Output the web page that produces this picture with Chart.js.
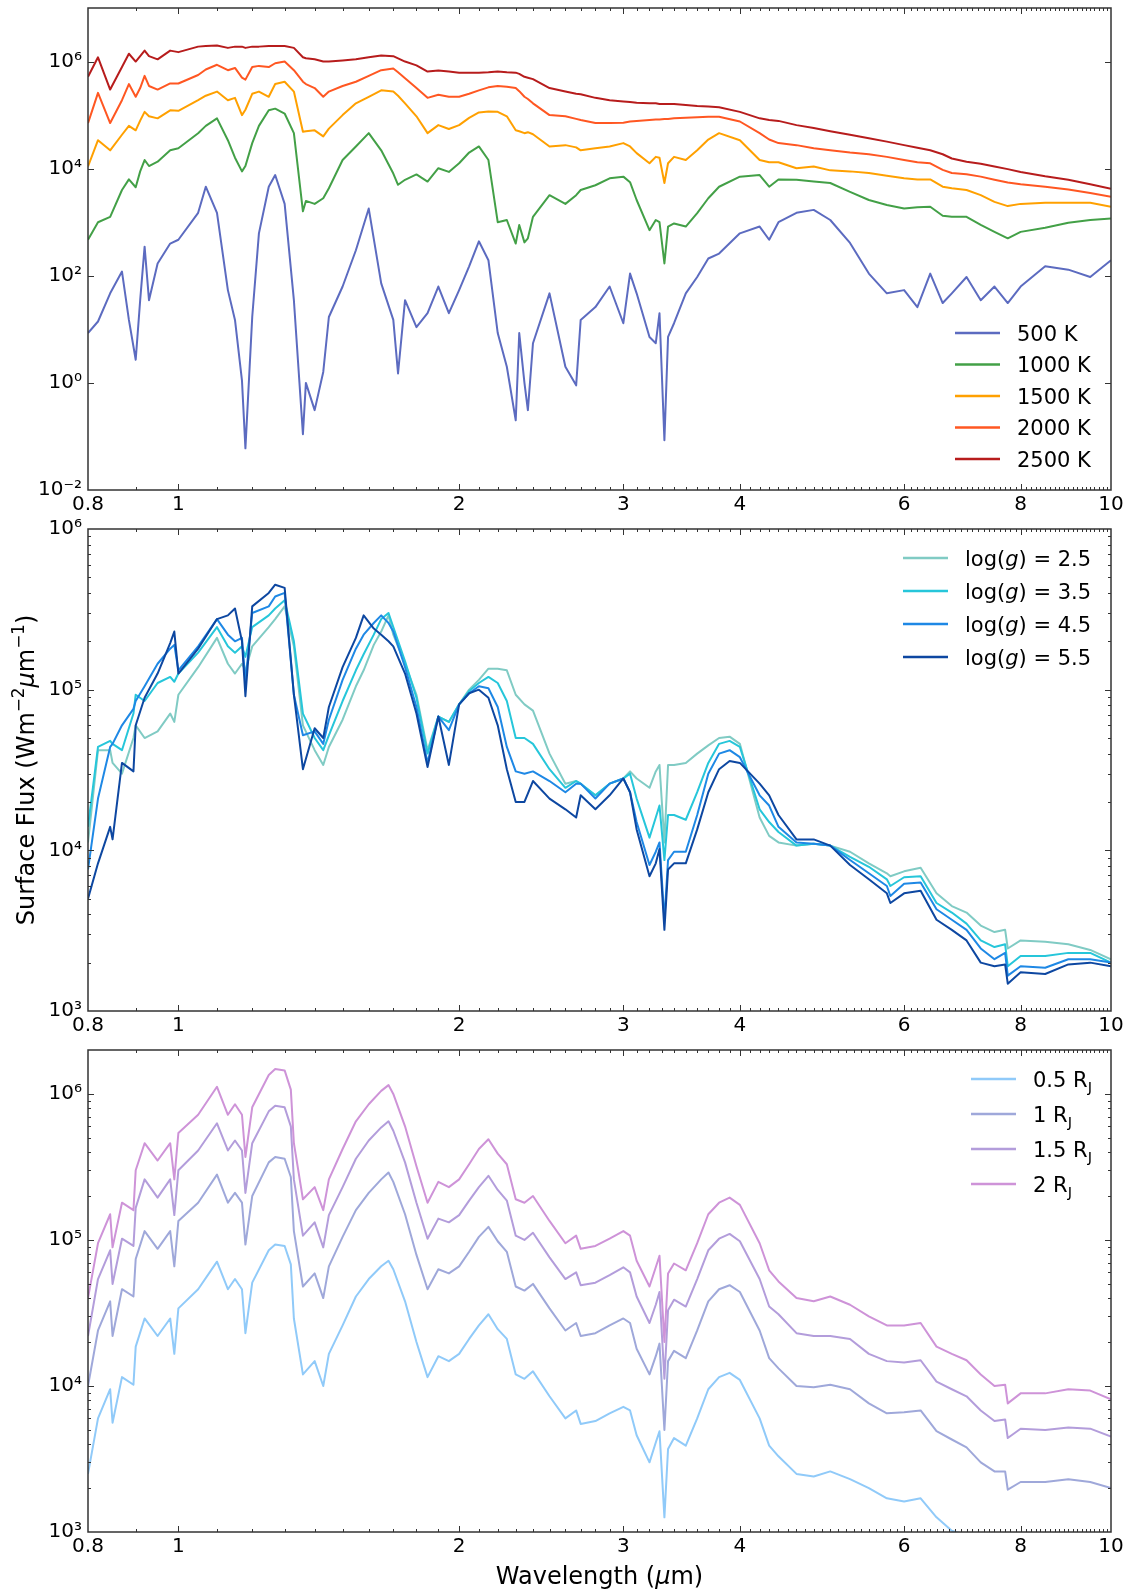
<!DOCTYPE html>
<html>
<head>
<meta charset="utf-8">
<script src="https://cdn.jsdelivr.net/npm/chart.js@4.4.1/dist/chart.umd.min.js"></script>
<style>
  html, body { margin: 0; padding: 0; background: #fff; }
  #fig { position: relative; width: 1128px; height: 1591px; }
  canvas { position: absolute; left: 0; }
</style>
</head>
<body>
<div id="fig">
  <canvas id="c1" width="1128" height="521" style="top:0px"></canvas>
  <canvas id="c2" width="1128" height="541" style="top:501px"></canvas>
  <canvas id="c3" width="1128" height="569" style="top:1022px"></canvas>
</div>
<script>
// ---- shared axis ticks ----
const xTicks = [0.8, 1, 2, 3, 4, 6, 8, 10];
const yTicksTemp = [1e-2, 1, 1e2, 1e4, 1e6];
const yTicksGrav = [1e3, 1e4, 1e5, 1e6];
const yTicksRad = [1e3, 1e4, 1e5, 1e6];

// ---- panel 1: temperature ----
const wlTemp = [0.8, 0.82, 0.845, 0.87, 0.885, 0.9, 0.91, 0.92, 0.93, 0.95,
  0.98, 1.0, 1.05, 1.07, 1.1, 1.13, 1.15, 1.17, 1.18, 1.2,
  1.22, 1.25, 1.27, 1.3, 1.33, 1.36, 1.37, 1.4, 1.43, 1.45,
  1.5, 1.55, 1.6, 1.65, 1.7, 1.72, 1.75, 1.8, 1.85, 1.9,
  1.95, 2.0, 2.05, 2.1, 2.15, 2.2, 2.25, 2.3, 2.32, 2.35,
  2.37, 2.4, 2.5, 2.6, 2.67, 2.7, 2.8, 2.9, 3.0, 3.05,
  3.1, 3.2, 3.25, 3.28, 3.32, 3.35, 3.4, 3.5, 3.6, 3.7,
  3.8, 4.0, 4.2, 4.3, 4.4, 4.6, 4.8, 5.0, 5.25, 5.5,
  5.75, 6.0, 6.2, 6.4, 6.6, 6.75, 7.0, 7.25, 7.5, 7.75,
  8.0, 8.5, 9.0, 9.5, 10];
const tempLabels = ['500 K', '1000 K', '1500 K', '2000 K', '2500 K'];
const tempColors = ['#5c6bc0', '#43a047', '#ffa000', '#ff5722', '#b71c1c'];
const flux500 = [8.5, 14, 47, 120, 15, 2.7, 35, 350, 35, 170,
  400, 470, 1.5e3, 4.6e3, 1.5e3, 54, 15, 1.1, 0.06, 17,
  620, 4.6e3, 7.6e3, 2.2e3, 35, 0.11, 1.0, 0.31, 1.6, 17,
  63, 300, 1.8e3, 72, 15, 1.5, 35, 11, 20, 63,
  20, 54, 150, 440, 195, 8.5, 2.0, 0.2, 8.5, 1.0,
  0.31, 5.5, 47, 2.0, 0.9, 15, 26, 63, 13, 110,
  47, 7.2, 5.5, 20, 0.085, 7.2, 13, 47, 95, 210,
  260, 620, 830, 470, 1.0e3, 1.5e3, 1.7e3, 1.1e3, 410, 110,
  47, 54, 26, 110, 31, 47, 95, 35, 63, 31,
  63, 150, 130, 95, 195];
const flux1000 = [470, 1.0e3, 1.26e3, 4.0e3, 6.3e3, 4.5e3, 8.9e3, 1.45e4, 1.12e4, 1.35e4,
  2.2e4, 2.4e4, 4.6e4, 6.3e4, 8.7e4, 3.4e4, 1.6e4, 8.9e3, 1.12e4, 3.0e4,
  6.3e4, 1.23e5, 1.32e5, 1.07e5, 4.6e4, 1.6e3, 2.5e3, 2.2e3, 2.8e3, 4.3e3,
  1.45e4, 2.6e4, 4.6e4, 2.2e4, 8.1e3, 5.0e3, 6.2e3, 7.8e3, 5.75e3, 1.02e4,
  8.7e3, 1.26e4, 2.0e4, 2.6e4, 1.45e4, 1.0e3, 1.1e3, 400, 890, 420,
  500, 1.26e3, 3.2e3, 2.2e3, 3.2e3, 4.0e3, 4.9e3, 6.6e3, 7.1e3, 5.6e3,
  2.6e3, 710, 1.1e3, 1.0e3, 170, 830, 950, 830, 1.48e3, 2.8e3,
  4.6e3, 7.1e3, 7.6e3, 4.6e3, 6.3e3, 6.2e3, 5.75e3, 5.4e3, 3.7e3, 2.6e3,
  2.1e3, 1.8e3, 1.9e3, 1.95e3, 1.32e3, 1.26e3, 1.26e3, 890, 660, 500,
  660, 790, 980, 1.1e3, 1.17e3];
const flux1500 = [1.1e4, 3.4e4, 2.2e4, 4.3e4, 6.3e4, 5.2e4, 7.9e4, 1.15e5, 9.5e4, 8.7e4,
  1.23e5, 1.2e5, 1.9e5, 2.3e5, 2.75e5, 1.9e5, 2.1e5, 1.0e5, 1.26e5, 2.5e5,
  2.75e5, 2.2e5, 3.8e5, 4.2e5, 2.75e5, 4.9e4, 5.0e4, 5.2e4, 4.0e4, 5.6e4,
  1.0e5, 1.66e5, 2.2e5, 2.9e5, 2.75e5, 2.3e5, 1.66e5, 9.5e4, 4.6e4, 6.5e4,
  5.5e4, 6.5e4, 8.9e4, 1.12e5, 1.17e5, 1.15e5, 9.5e4, 5.2e4, 5.0e4, 4.6e4,
  4.8e4, 4.4e4, 2.6e4, 2.75e4, 2.5e4, 2.2e4, 2.4e4, 2.6e4, 3.0e4, 2.6e4,
  1.95e4, 1.26e4, 1.66e4, 1.6e4, 5.4e3, 1.26e4, 1.66e4, 1.45e4, 2.2e4, 3.5e4,
  4.6e4, 3.4e4, 1.45e4, 1.32e4, 1.32e4, 1.02e4, 1.1e4, 9.3e3, 8.9e3, 8.3e3,
  7.4e3, 6.6e3, 6.3e3, 6.3e3, 4.6e3, 4.3e3, 4.0e3, 3.2e3, 2.4e3, 2.0e3,
  2.2e3, 2.3e3, 2.3e3, 2.3e3, 1.95e3];
const flux2000 = [7.1e4, 2.6e5, 7.1e4, 1.9e5, 3.8e5, 2.2e5, 3.2e5, 5.4e5, 3.5e5, 3.0e5,
  3.9e5, 3.9e5, 5.6e5, 7.1e5, 8.7e5, 6.9e5, 7.6e5, 5.0e5, 4.6e5, 7.9e5,
  8.3e5, 7.9e5, 9.3e5, 1.0e6, 6.9e5, 4.2e5, 3.8e5, 3.2e5, 2.2e5, 2.75e5,
  3.5e5, 4.2e5, 5.4e5, 6.9e5, 7.4e5, 6.3e5, 4.9e5, 3.2e5, 2.1e5, 2.4e5,
  2.2e5, 2.2e5, 2.5e5, 2.9e5, 3.3e5, 3.5e5, 3.4e5, 3.2e5, 2.8e5, 2.2e5,
  2.0e5, 1.66e5, 1.0e5, 9.5e4, 8.5e4, 8.1e4, 7.1e4, 7.1e4, 7.2e4, 7.6e4,
  7.8e4, 8.1e4, 8.3e4, 8.3e4, 8.5e4, 8.5e4, 8.7e4, 8.9e4, 9.1e4, 9.3e4,
  9.3e4, 7.6e4, 4.6e4, 3.5e4, 3.0e4, 2.75e4, 2.4e4, 2.2e4, 2.0e4, 1.86e4,
  1.66e4, 1.45e4, 1.32e4, 1.26e4, 9.5e3, 8.3e3, 7.9e3, 7.1e3, 6.2e3, 5.5e3,
  5.1e3, 4.6e3, 4.1e3, 3.5e3, 3.0e3];
const flux2500 = [5.2e5, 1.2e6, 3.0e5, 7.9e5, 1.4e6, 1.0e6, 1.26e6, 1.6e6, 1.26e6, 1.1e6,
  1.6e6, 1.5e6, 1.9e6, 1.95e6, 2.0e6, 1.8e6, 1.9e6, 1.9e6, 1.8e6, 1.9e6,
  1.9e6, 1.95e6, 1.95e6, 1.95e6, 1.8e6, 1.2e6, 1.15e6, 1.1e6, 1.0e6, 1.0e6,
  1.05e6, 1.1e6, 1.2e6, 1.3e6, 1.26e6, 1.15e6, 1.0e6, 8.5e5, 6.5e5, 6.8e5,
  6.5e5, 6.2e5, 6.2e5, 6.2e5, 6.3e5, 6.5e5, 6.3e5, 6.2e5, 5.9e5, 5.2e5,
  5.0e5, 4.7e5, 3.2e5, 2.75e5, 2.5e5, 2.45e5, 2.1e5, 1.9e5, 1.8e5, 1.75e5,
  1.7e5, 1.66e5, 1.66e5, 1.62e5, 1.62e5, 1.62e5, 1.62e5, 1.55e5, 1.48e5, 1.45e5,
  1.4e5, 1.15e5, 8.7e4, 8.1e4, 7.8e4, 6.5e4, 5.75e4, 5.0e4, 4.3e4, 3.7e4,
  3.2e4, 2.75e4, 2.45e4, 2.2e4, 1.86e4, 1.55e4, 1.35e4, 1.23e4, 1.1e4, 9.8e3,
  8.7e3, 7.2e3, 6.2e3, 5.1e3, 4.2e3];

// ---- panel 2: surface gravity ----
const wlGrav = [0.8, 0.82, 0.845, 0.85, 0.87, 0.895, 0.9, 0.92, 0.95, 0.98,
  0.99, 1.0, 1.05, 1.1, 1.13, 1.15, 1.17, 1.18, 1.2, 1.25,
  1.27, 1.3, 1.33, 1.36, 1.4, 1.43, 1.45, 1.5, 1.55, 1.58,
  1.62, 1.65, 1.68, 1.7, 1.75, 1.8, 1.85, 1.9, 1.95, 2.0,
  2.05, 2.1, 2.15, 2.2, 2.25, 2.3, 2.35, 2.4, 2.5, 2.6,
  2.67, 2.7, 2.8, 2.9, 3.0, 3.05, 3.1, 3.2, 3.25, 3.28,
  3.32, 3.35, 3.4, 3.5, 3.6, 3.7, 3.8, 3.9, 4.0, 4.2,
  4.3, 4.4, 4.6, 4.8, 5.0, 5.25, 5.5, 5.75, 5.8, 6.0,
  6.25, 6.5, 6.75, 7.0, 7.25, 7.5, 7.7, 7.75, 8.0, 8.5,
  9.0, 9.5, 10];
const gravLabels = ['log(*g*) = 2.5', 'log(*g*) = 3.5', 'log(*g*) = 4.5', 'log(*g*) = 5.5'];
const gravColors = ['#80cbc4', '#26c6da', '#1e88e5', '#0d47a1'];
const fluxLogg25 = [1.12e4, 4.2e4, 4.2e4, 3.5e4, 3.0e4, 5.0e4, 6.0e4, 5.0e4, 5.5e4, 7.1e4,
  6.3e4, 9.3e4, 1.38e5, 2.1e5, 1.45e5, 1.26e5, 1.45e5, 1.32e5, 1.86e5, 2.45e5,
  2.75e5, 3.3e5, 1.86e5, 6.0e4, 4.2e4, 3.4e4, 4.4e4, 6.5e4, 1.05e5, 1.32e5,
  1.9e5, 2.3e5, 2.9e5, 2.2e5, 1.45e5, 9.3e4, 4.2e4, 6.8e4, 6.3e4, 8.1e4,
  1.0e5, 1.15e5, 1.35e5, 1.35e5, 1.32e5, 9.3e4, 8.1e4, 7.4e4, 4.0e4, 2.6e4,
  2.7e4, 2.6e4, 2.2e4, 2.6e4, 2.8e4, 3.1e4, 2.8e4, 2.45e4, 3.1e4, 3.4e4,
  1.12e4, 3.4e4, 3.4e4, 3.5e4, 4.0e4, 4.5e4, 5.0e4, 5.1e4, 4.6e4, 1.6e4,
  1.23e4, 1.12e4, 1.07e4, 1.1e4, 1.07e4, 9.8e3, 8.3e3, 7.2e3, 6.9e3, 7.4e3,
  7.8e3, 5.4e3, 4.5e3, 4.1e3, 3.4e3, 3.1e3, 3.2e3, 2.45e3, 2.75e3, 2.7e3,
  2.6e3, 2.4e3, 2.1e3];
const fluxLogg35 = [1.4e4, 4.4e4, 4.8e4, 4.6e4, 4.2e4, 7.1e4, 9.3e4, 8.5e4, 1.1e5, 1.2e5,
  1.12e5, 1.26e5, 1.7e5, 2.45e5, 1.86e5, 1.7e5, 1.86e5, 1.6e5, 2.45e5, 2.9e5,
  3.2e5, 3.6e5, 2.0e5, 7.1e4, 5.0e4, 4.2e4, 5.2e4, 8.5e4, 1.32e5, 1.66e5,
  2.2e5, 2.75e5, 3.0e5, 2.45e5, 1.5e5, 8.9e4, 4.0e4, 6.8e4, 6.3e4, 8.1e4,
  9.8e4, 1.1e5, 1.2e5, 1.1e5, 8.5e4, 5.0e4, 5.0e4, 4.6e4, 3.2e4, 2.45e4,
  2.7e4, 2.6e4, 2.2e4, 2.6e4, 2.8e4, 3.0e4, 2.1e4, 1.2e4, 1.6e4, 1.9e4,
  8.7e3, 1.66e4, 1.66e4, 1.55e4, 2.3e4, 3.5e4, 4.6e4, 4.8e4, 4.4e4, 1.8e4,
  1.5e4, 1.3e4, 1.07e4, 1.1e4, 1.07e4, 9.1e3, 7.9e3, 6.6e3, 6.0e3, 6.8e3,
  6.9e3, 4.7e3, 4.1e3, 3.5e3, 2.75e3, 2.5e3, 2.6e3, 1.9e3, 2.2e3, 2.2e3,
  2.3e3, 2.3e3, 2.0e3];
const fluxLogg45 = [7.6e3, 2.1e4, 4.4e4, 4.6e4, 6.0e4, 7.6e4, 8.5e4, 1.05e5, 1.45e5, 1.8e5,
  1.9e5, 1.32e5, 1.86e5, 2.75e5, 2.2e5, 2.0e5, 2.1e5, 1.12e5, 3.0e5, 3.3e5,
  3.8e5, 4.0e5, 9.3e4, 5.2e4, 5.5e4, 4.6e4, 6.5e4, 1.15e5, 1.8e5, 2.2e5,
  2.6e5, 2.9e5, 2.6e5, 2.3e5, 1.38e5, 7.8e4, 3.5e4, 6.8e4, 5.6e4, 8.1e4,
  9.5e4, 1.05e5, 1.02e5, 7.8e4, 4.4e4, 3.1e4, 3.0e4, 3.1e4, 2.7e4, 2.3e4,
  2.6e4, 2.6e4, 2.1e4, 2.6e4, 2.8e4, 2.3e4, 1.5e4, 8.1e3, 9.8e3, 1.12e4,
  3.7e3, 8.7e3, 9.8e3, 9.8e3, 1.66e4, 3.0e4, 4.0e4, 4.2e4, 3.8e4, 2.2e4,
  1.9e4, 1.4e4, 1.12e4, 1.1e4, 1.07e4, 8.7e3, 7.2e3, 6.0e3, 5.2e3, 6.2e3,
  6.3e3, 4.3e3, 3.7e3, 3.2e3, 2.45e3, 2.1e3, 2.3e3, 1.66e3, 1.9e3, 1.86e3,
  2.1e3, 2.1e3, 2.0e3];
const fluxLogg55 = [5.0e3, 8.3e3, 1.4e4, 1.17e4, 3.5e4, 3.1e4, 6.0e4, 8.9e4, 1.26e5, 1.95e5,
  2.3e5, 1.26e5, 1.8e5, 2.75e5, 2.9e5, 3.2e5, 2.0e5, 9.1e4, 3.3e5, 4.0e5,
  4.5e5, 4.3e5, 9.3e4, 3.2e4, 5.75e4, 5.0e4, 7.8e4, 1.38e5, 2.1e5, 2.9e5,
  2.4e5, 2.2e5, 2.0e5, 1.86e5, 1.26e5, 7.1e4, 3.3e4, 6.8e4, 3.4e4, 8.1e4,
  9.5e4, 1.0e5, 8.9e4, 6.0e4, 3.2e4, 2.0e4, 2.0e4, 2.7e4, 2.1e4, 1.8e4,
  1.6e4, 2.2e4, 1.8e4, 2.2e4, 2.8e4, 2.3e4, 1.35e4, 6.9e3, 8.3e3, 1.02e4,
  3.2e3, 7.6e3, 8.3e3, 8.3e3, 1.35e4, 2.3e4, 3.2e4, 3.6e4, 3.5e4, 2.6e4,
  2.2e4, 1.66e4, 1.17e4, 1.17e4, 1.07e4, 8.1e3, 6.6e3, 5.4e3, 4.7e3, 5.4e3,
  5.6e3, 3.7e3, 3.2e3, 2.75e3, 2.0e3, 1.9e3, 1.95e3, 1.48e3, 1.74e3, 1.7e3,
  1.95e3, 2.0e3, 1.9e3];

// ---- panel 3: radius ----
const wlRad = [0.8, 0.82, 0.845, 0.85, 0.87, 0.895, 0.9, 0.92, 0.95, 0.98,
  0.99, 1.0, 1.05, 1.1, 1.13, 1.15, 1.17, 1.18, 1.2, 1.25,
  1.27, 1.3, 1.32, 1.33, 1.36, 1.4, 1.43, 1.45, 1.5, 1.55,
  1.6, 1.65, 1.68, 1.7, 1.75, 1.8, 1.85, 1.9, 1.95, 2.0,
  2.05, 2.1, 2.15, 2.2, 2.25, 2.3, 2.35, 2.4, 2.5, 2.6,
  2.67, 2.7, 2.8, 2.9, 3.0, 3.05, 3.1, 3.2, 3.25, 3.28,
  3.32, 3.35, 3.4, 3.5, 3.6, 3.7, 3.8, 3.9, 4.0, 4.2,
  4.3, 4.4, 4.6, 4.8, 5.0, 5.25, 5.5, 5.75, 6.0, 6.25,
  6.5, 6.75, 7.0, 7.25, 7.5, 7.7, 7.75, 8.0, 8.5, 9.0,
  9.5, 10];
const radLabels = ['0.5 R_J', '1 R_J', '1.5 R_J', '2 R_J'];
const radColors = ['#90caf9', '#9fa8da', '#b39ddb', '#ce93d8'];
const fluxR05 = [2.5e3, 6.0e3, 9.5e3, 5.6e3, 1.15e4, 1.02e4, 1.86e4, 2.9e4, 2.2e4, 2.9e4,
  1.66e4, 3.4e4, 4.6e4, 7.1e4, 4.6e4, 5.4e4, 4.6e4, 2.3e4, 5.1e4, 8.5e4,
  9.3e4, 9.1e4, 6.8e4, 2.9e4, 1.2e4, 1.48e4, 1.0e4, 1.66e4, 2.6e4, 4.1e4,
  5.4e4, 6.6e4, 7.2e4, 6.3e4, 3.8e4, 2.0e4, 1.15e4, 1.6e4, 1.48e4, 1.66e4,
  2.1e4, 2.6e4, 3.1e4, 2.45e4, 2.1e4, 1.2e4, 1.12e4, 1.26e4, 8.5e3, 6.0e3,
  6.8e3, 5.5e3, 5.75e3, 6.5e3, 7.2e3, 6.8e3, 4.6e3, 3.0e3, 4.1e3, 4.9e3,
  1.26e3, 3.7e3, 4.4e3, 3.9e3, 6.0e3, 9.5e3, 1.15e4, 1.23e4, 1.1e4, 6.0e3,
  3.9e3, 3.3e3, 2.5e3, 2.4e3, 2.6e3, 2.3e3, 2.0e3, 1.7e3, 1.62e3, 1.7e3,
  1.26e3, 1.02e3, 950, 740, 680, 690, 490, 560, 560, 590,
  560, 500];
const fluxR10 = [1.0e4, 2.4e4, 3.8e4, 2.2e4, 4.6e4, 4.1e4, 7.4e4, 1.15e5, 8.7e4, 1.15e5,
  6.6e4, 1.35e5, 1.8e5, 2.8e5, 1.8e5, 2.1e5, 1.8e5, 9.3e4, 2.0e5, 3.4e5,
  3.7e5, 3.6e5, 2.7e5, 1.15e5, 4.8e4, 5.9e4, 4.0e4, 6.6e4, 1.05e5, 1.6e5,
  2.1e5, 2.6e5, 2.9e5, 2.5e5, 1.5e5, 7.9e4, 4.6e4, 6.3e4, 5.9e4, 6.6e4,
  8.3e4, 1.05e5, 1.23e5, 9.8e4, 8.3e4, 4.8e4, 4.5e4, 5.0e4, 3.4e4, 2.4e4,
  2.7e4, 2.2e4, 2.3e4, 2.6e4, 2.9e4, 2.7e4, 1.8e4, 1.2e4, 1.6e4, 1.95e4,
  5.0e3, 1.48e4, 1.74e4, 1.55e4, 2.4e4, 3.8e4, 4.6e4, 4.9e4, 4.4e4, 2.4e4,
  1.55e4, 1.32e4, 1.0e4, 9.8e3, 1.02e4, 9.5e3, 7.6e3, 6.5e3, 6.6e3, 6.8e3,
  4.9e3, 4.3e3, 3.8e3, 3.0e3, 2.6e3, 2.6e3, 1.95e3, 2.2e3, 2.2e3, 2.3e3,
  2.2e3, 2.0e3];
const fluxR15 = [2.2e4, 5.4e4, 8.5e4, 5.0e4, 1.02e5, 9.1e4, 1.66e5, 2.6e5, 1.95e5, 2.6e5,
  1.48e5, 3.0e5, 4.1e5, 6.3e5, 4.1e5, 4.8e5, 4.1e5, 2.1e5, 4.6e5, 7.6e5,
  8.3e5, 8.1e5, 6.0e5, 2.6e5, 1.07e5, 1.32e5, 8.9e4, 1.48e5, 2.3e5, 3.6e5,
  4.8e5, 5.9e5, 6.5e5, 5.6e5, 3.4e5, 1.8e5, 1.02e5, 1.4e5, 1.32e5, 1.48e5,
  1.86e5, 2.3e5, 2.75e5, 2.2e5, 1.86e5, 1.07e5, 1.0e5, 1.12e5, 7.6e4, 5.4e4,
  6.0e4, 4.9e4, 5.1e4, 5.75e4, 6.5e4, 6.0e4, 4.1e4, 2.7e4, 3.6e4, 4.4e4,
  1.12e4, 3.3e4, 3.9e4, 3.5e4, 5.4e4, 8.5e4, 1.02e5, 1.1e5, 9.8e4, 5.4e4,
  3.5e4, 3.1e4, 2.3e4, 2.2e4, 2.2e4, 2.1e4, 1.66e4, 1.48e4, 1.45e4, 1.5e4,
  1.07e4, 9.5e3, 8.5e3, 6.8e3, 5.75e3, 5.9e3, 4.4e3, 5.1e3, 5.0e3, 5.2e3,
  5.1e3, 4.5e3];
const fluxR20 = [4.0e4, 9.5e4, 1.5e5, 8.9e4, 1.8e5, 1.6e5, 3.0e5, 4.6e5, 3.5e5, 4.6e5,
  2.6e5, 5.4e5, 7.2e5, 1.12e6, 7.2e5, 8.5e5, 7.2e5, 3.7e5, 8.1e5, 1.35e6,
  1.48e6, 1.45e6, 1.07e6, 4.6e5, 1.9e5, 2.3e5, 1.6e5, 2.6e5, 4.2e5, 6.5e5,
  8.5e5, 1.05e6, 1.15e6, 1.0e6, 6.0e5, 3.2e5, 1.8e5, 2.5e5, 2.3e5, 2.6e5,
  3.3e5, 4.2e5, 4.9e5, 3.9e5, 3.3e5, 1.9e5, 1.8e5, 2.0e5, 1.35e5, 9.5e4,
  1.07e5, 8.7e4, 9.1e4, 1.02e5, 1.15e5, 1.07e5, 7.2e4, 4.8e4, 6.5e4, 7.8e4,
  2.0e4, 5.9e4, 6.9e4, 6.2e4, 9.5e4, 1.5e5, 1.8e5, 1.95e5, 1.74e5, 9.5e4,
  6.2e4, 5.2e4, 4.0e4, 3.8e4, 4.1e4, 3.6e4, 3.0e4, 2.6e4, 2.6e4, 2.7e4,
  1.86e4, 1.66e4, 1.5e4, 1.2e4, 1.0e4, 1.02e4, 7.6e3, 8.9e3, 8.9e3, 9.5e3,
  9.3e3, 8.1e3];

// ---- text helpers (italic via *x*, subscript via _X, superscript via ^{..}) ----
const FONT = '"DejaVu Sans", sans-serif';
const SUP = {'-': '⁻', '0': '⁰', '1': '¹', '2': '²', '3': '³', '4': '⁴', '5': '⁵', '6': '⁶', '7': '⁷', '8': '⁸', '9': '⁹'};
const powLabel = v => '10' + String(Math.round(Math.log10(v))).split('').map(c => SUP[c]).join('');

function parseRich(s) {
  const out = [];
  const re = /\*([^*]+)\*|_(\w)|\^\{([^}]+)\}/g;
  let last = 0, m;
  while ((m = re.exec(s))) {
    if (m.index > last) out.push({t: s.slice(last, m.index)});
    if (m[1]) out.push({t: m[1], it: true});
    else if (m[2]) out.push({t: m[2], sub: true});
    else out.push({t: m[3], sup: true});
    last = re.lastIndex;
  }
  if (last < s.length) out.push({t: s.slice(last)});
  return out;
}

function drawRich(ctx, s, x, y, size, align) {
  const segs = parseRich(s);
  const fontFor = g => (g.it ? 'italic ' : '') + ((g.sub || g.sup) ? size * 0.7 : size) + 'px ' + FONT;
  let w = 0;
  segs.forEach(g => { ctx.font = fontFor(g); g.w = ctx.measureText(g.t).width; w += g.w; });
  let cx = align === 'center' ? x - w / 2 : x;
  ctx.textAlign = 'left';
  ctx.textBaseline = 'alphabetic';
  segs.forEach(g => {
    ctx.font = fontFor(g);
    const dy = g.sub ? size * 0.24 : g.sup ? -size * 0.4 : 0;
    ctx.fillText(g.t, cx, y + dy);
    cx += g.w;
  });
}

// ---- plugins ----
const framePlugin = {
  id: 'frame',
  afterDraw(chart, args, o) {
    const {ctx, chartArea: a, scales} = chart;
    const xs = scales.x, ys = scales.y;
    ctx.save();
    ctx.strokeStyle = '#333';
    ctx.lineWidth = 1;
    ctx.beginPath();
    const vt = (v, len) => {
      const p = Math.round(xs.getPixelForValue(v)) + 0.5;
      if (p < a.left + 1 || p > a.right - 1) return;
      ctx.moveTo(p, a.bottom); ctx.lineTo(p, a.bottom - len);
      ctx.moveTo(p, a.top); ctx.lineTo(p, a.top + len);
    };
    const ht = (v, len) => {
      const p = Math.round(ys.getPixelForValue(v)) + 0.5;
      if (p < a.top + 1 || p > a.bottom - 1) return;
      ctx.moveTo(a.left, p); ctx.lineTo(a.left + len, p);
      ctx.moveTo(a.right, p); ctx.lineTo(a.right - len, p);
    };
    for (let k = 8; k <= 100; k++) if (!xTicks.includes(k / 10)) vt(k / 10, 3);
    xTicks.forEach(v => vt(v, 6));
    o.yMajor.forEach(v => ht(v, 6));
    if (o.yMinor) {
      for (let e = Math.floor(Math.log10(ys.min)); e <= Math.log10(ys.max); e++) {
        for (let m = 2; m <= 9; m++) ht(m * Math.pow(10, e), 3);
      }
    }
    ctx.stroke();
    ctx.lineWidth = 1.5;
    ctx.strokeRect(a.left, a.top, a.right - a.left, a.bottom - a.top);
    ctx.restore();
  }
};

const legendPlugin = {
  id: 'figLegend',
  afterDraw(chart, args, o) {
    const {ctx, chartArea: a} = chart;
    ctx.save();
    chart.data.datasets.forEach((ds, i) => {
      const y = a.top + o.top + i * o.step;
      ctx.strokeStyle = ds.borderColor;
      ctx.lineWidth = 2.5;
      ctx.beginPath();
      ctx.moveTo(a.right - o.x0, y);
      ctx.lineTo(a.right - o.x1, y);
      ctx.stroke();
      ctx.fillStyle = '#000';
      drawRich(ctx, ds.label, a.right - o.tx, y + 0.36 * o.size, o.size, 'left');
    });
    ctx.restore();
  }
};

const titlePlugin = {
  id: 'axisTitles',
  afterDraw(chart, args, o) {
    const {ctx, chartArea: a} = chart;
    ctx.save();
    ctx.fillStyle = '#000';
    if (o.yText) {
      ctx.save();
      ctx.translate(o.yX, (a.top + a.bottom) / 2);
      ctx.rotate(-Math.PI / 2);
      drawRich(ctx, o.yText, 0, 0.36 * o.size, o.size, 'center');
      ctx.restore();
    }
    if (o.xText) {
      drawRich(ctx, o.xText, (a.left + a.right) / 2, a.bottom + o.xOffset + 0.36 * o.size, o.size, 'center');
    }
    ctx.restore();
  }
};

function spectrumChart(id, wl, series, labels, colors, p) {
  return new Chart(document.getElementById(id), {
    type: 'line',
    data: {
      datasets: series.map((vals, i) => ({
        label: labels[i],
        data: wl.map((w, j) => ({x: w, y: vals[j]})),
        borderColor: colors[i],
        borderWidth: 2,
        borderJoinStyle: 'round',
        pointRadius: 0,
        fill: false,
        tension: 0,
        order: -i
      }))
    },
    options: {
      responsive: false,
      animation: false,
      events: [],
      layout: {padding: {top: p.padTop, right: 17, bottom: p.padBottom, left: 0}},
      plugins: {
        legend: {display: false},
        tooltip: {enabled: false},
        frame: {yMajor: p.yTicks, yMinor: p.yMinor},
        figLegend: p.legend,
        axisTitles: p.titles || {}
      },
      scales: {
        x: {
          type: 'logarithmic', min: 0.8, max: 10,
          grid: {display: false, drawTicks: false},
          border: {display: false},
          afterBuildTicks: s => { s.ticks = xTicks.map(v => ({value: v})); },
          afterFit: s => { s.height = 31; s.paddingLeft = 0; s.paddingRight = 0; },
          ticks: {autoSkip: false, maxRotation: 0, padding: 3, color: '#000',
                  font: {family: FONT, size: 20}, callback: v => String(v)}
        },
        y: {
          type: 'logarithmic', min: p.yMin, max: p.yMax,
          grid: {display: false, drawTicks: false},
          border: {display: false},
          afterBuildTicks: s => { s.ticks = p.yTicks.map(v => ({value: v})); },
          afterFit: s => { s.width = 88; s.paddingTop = 0; s.paddingBottom = 0; },
          ticks: {autoSkip: false, padding: 6, color: '#000',
                  font: {family: FONT, size: 20}, callback: v => powLabel(v)}
        }
      }
    },
    plugins: [framePlugin, legendPlugin, titlePlugin]
  });
}

spectrumChart('c1', wlTemp, [flux500, flux1000, flux1500, flux2000, flux2500], tempLabels, tempColors, {
  padTop: 8, padBottom: 0, yMin: 1e-2, yMax: 1e7, yTicks: yTicksTemp, yMinor: false,
  legend: {top: 325, step: 31.5, x0: 156, x1: 111, tx: 94, size: 21}
});

spectrumChart('c2', wlGrav, [fluxLogg25, fluxLogg35, fluxLogg45, fluxLogg55], gravLabels, gravColors, {
  padTop: 28, padBottom: 0, yMin: 1e3, yMax: 1e6, yTicks: yTicksGrav, yMinor: true,
  legend: {top: 29, step: 33, x0: 208, x1: 163, tx: 146, size: 21},
  titles: {yText: 'Surface Flux (Wm^{−2}*μ*m^{−1})', yX: 25, size: 24}
});

spectrumChart('c3', wlRad, [fluxR05, fluxR10, fluxR15, fluxR20], radLabels, radColors, {
  padTop: 28, padBottom: 28, yMin: 1e3, yMax: 2e6, yTicks: yTicksRad, yMinor: true,
  legend: {top: 29, step: 35, x0: 140, x1: 95, tx: 78, size: 21},
  titles: {xText: 'Wavelength (*μ*m)', xOffset: 43, size: 24}
});
</script>
</body>
</html>
